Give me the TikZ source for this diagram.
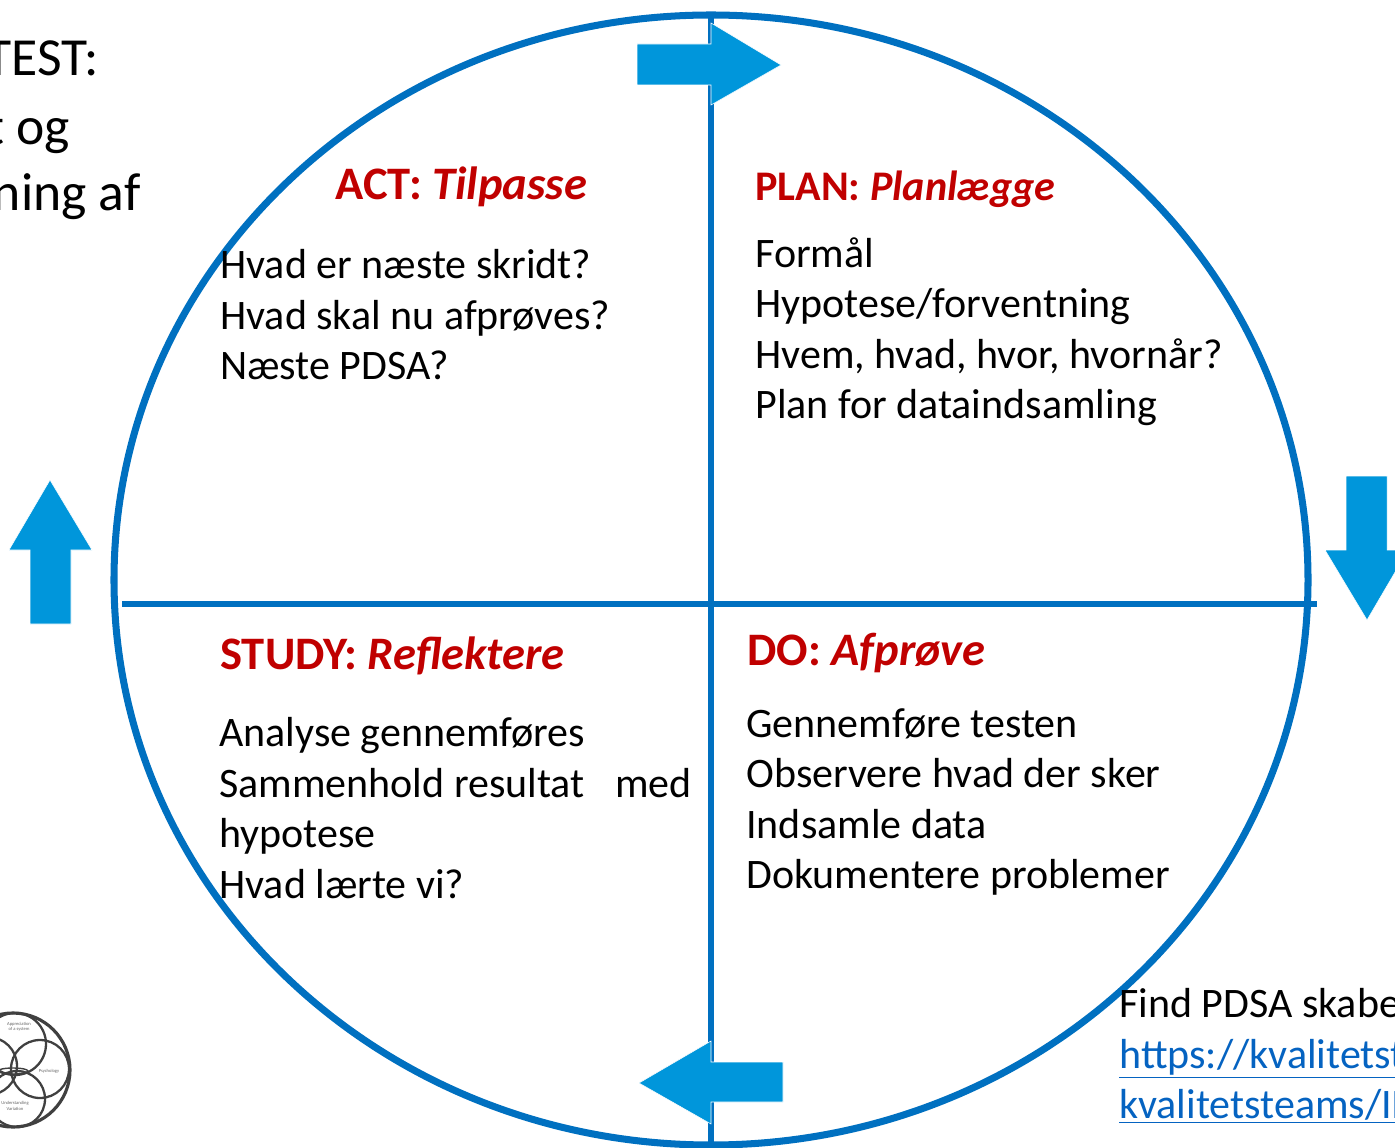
\documentclass[tikz,border=0pt]{standalone}
\usepackage{fontspec}
\setmainfont{Carlito}
\definecolor{ringblue}{HTML}{0070C0}
\definecolor{arrowblue}{HTML}{0096DB}
\definecolor{headred}{HTML}{C00000}
\definecolor{linkblue}{HTML}{0563C1}
\tikzset{
  bodytext/.style={anchor=north west,align=left,inner sep=0pt,font=\fontsize{23.9}{28.75}\selectfont},
  headtext/.style={anchor=base west,inner sep=0pt,text=headred,font=\fontsize{#1}{#1}\selectfont\bfseries},
  turnarrow/.style={fill=arrowblue,draw=white,line width=0.3pt},
  logoline/.style={draw=black!75,line width=1.3pt},
  logotext/.style={inner sep=0pt,align=center,text=black!60,font=\fontsize{2.6}{3}\selectfont}
}
\begin{document}
\begin{tikzpicture}[x=0.02cm,y=-0.02cm]
\useasboundingbox (0,0) rectangle (1395,1148);
\clip (0,0) rectangle (1395,1148);
% ring and axes
\draw[ringblue,line width=4pt] (711,580) ellipse [x radius=597,y radius=565];
\draw[ringblue,line width=3pt] (711,15) -- (711,1145);
\draw[ringblue,line width=3pt] (122,604) -- (1317,604);
% arrows
\draw[turnarrow] (637,44) -- (711,44) -- (711,23) -- (781,65) -- (711,105) -- (711,85) -- (637,85) -- cycle;
\draw[turnarrow] (1346,476) -- (1387,476) -- (1387,550) -- (1408,550) -- (1367,620) -- (1325,550) -- (1346,550) -- cycle;
\draw[turnarrow] (783,1062) -- (711,1062) -- (711,1041) -- (639,1083) -- (711,1124) -- (711,1102) -- (783,1102) -- cycle;
\draw[turnarrow] (30,624) -- (30,550) -- (9,550) -- (50,480) -- (92,550) -- (71,550) -- (71,624) -- cycle;
% headings
\node[headtext=26.5] (act) at (335,200) {ACT: \textit{Tilpasse}};
\node[headtext=24] (plan) at (755,201) {PLAN: \textit{Planlægge}};
\node[headtext=26.5] (study) at (220,669) {STUDY: \textit{Reflektere}};
\node[headtext=26.5] (do) at (747,665) {DO: \textit{Afprøve}};
% quadrant texts
\node[bodytext] (acttext) at (220,249) {Hvad er næste skridt?\\Hvad skal nu afprøves?\\Næste PDSA?};
\node[bodytext] (plantext) at (755,237) {Formål\\Hypotese/forventning\\Hvem, hvad, hvor, hvornår?\\Plan for dataindsamling};
\node[bodytext] (studytext) at (219,717) {Analyse gennemføres\\Sammenhold resultat\hspace{0.5em} med\\hypotese\\Hvad lærte vi?};
\node[bodytext] (dotext) at (746,708) {Gennemføre testen\\Observere hvad der sker\\Indsamle data\\Dokumentere problemer};
% cut off texts
\node[anchor=base east,inner sep=0pt,font=\fontsize{30.5}{30}\selectfont] (testa) at (99,76) {TEST:};
\node[anchor=base east,inner sep=0pt,font=\fontsize{30.5}{30}\selectfont] (testb) at (70,145) {t og};
\node[anchor=base east,inner sep=0pt,font=\fontsize{30.5}{30}\selectfont] (testc) at (141,211) {ning af};
\node[bodytext] (find) at (1119,988) {Find PDSA skabe};
\node[bodytext,text=linkblue] (linka) at (1119,1039) {\underline{https://kvalitetst}};
\node[bodytext,text=linkblue] (linkb) at (1119,1089) {\underline{kvalitetsteams/II}};
% logo
\draw[logoline,line width=1.8pt] (13,1070) circle (57);
\draw[logoline] (15,1044) circle (31);
\draw[logoline] (40,1069) circle (29);
\draw[logoline] (17,1099) circle (28);
\draw[logoline] (-12,1066) circle (29);
\draw[logoline,line width=0.8pt] (13,1071) ellipse [x radius=15,y radius=3];
\node[logotext] (system) at (19,1027) {Appreciation\\of a system};
\node[logotext] (psych) at (49,1071) {Psychology};
\node[logotext] (vari) at (15,1106) {Understanding\\Variation};
\end{tikzpicture}
\end{document}
